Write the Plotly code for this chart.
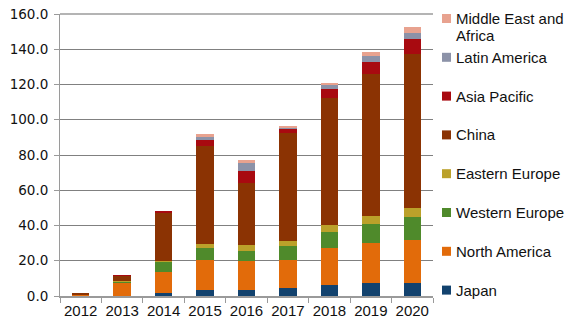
import plotly.graph_objects as go

# Annual installations by region (stacked)
years = ["2012", "2013", "2014", "2015", "2016", "2017", "2018", "2019", "2020"]

japan = [0.1, 0.2, 1.9, 3.6, 3.4, 4.7, 6.2, 7.2, 7.2]
north_america = [0.6, 7.2, 11.9, 16.6, 16.6, 16.0, 20.9, 22.7, 24.6]
western_europe = [0.1, 0.8, 5.7, 6.8, 5.7, 7.7, 9.4, 11.0, 12.9]
eastern_europe = [0.1, 0.5, 0.3, 2.5, 3.2, 2.9, 3.8, 4.5, 5.4]
china = [0.8, 2.8, 27.7, 55.5, 35.4, 61.0, 71.9, 80.6, 87.0]
asia_pacific = [0.0, 0.2, 0.2, 3.4, 6.6, 2.8, 5.1, 7.0, 8.7]
latin_america = [0.0, 0.0, 0.0, 2.0, 4.4, 0.5, 2.3, 3.3, 3.6]
middle_east_africa = [0.0, 0.0, 0.0, 1.3, 1.9, 0.5, 1.4, 1.9, 3.4]

# (trace name, legend label lines, values, colour)
series = [
    ("Japan", ["Japan"], japan, "#12426E"),
    ("North America", ["North America"], north_america, "#E26B0A"),
    ("Western Europe", ["Western Europe"], western_europe, "#4F8A2B"),
    ("Eastern Europe", ["Eastern Europe"], eastern_europe, "#BBA12A"),
    ("China", ["China"], china, "#8B3303"),
    ("Asia Pacific", ["Asia Pacific"], asia_pacific, "#A80A10"),
    ("Latin America", ["Latin America"], latin_america, "#8C92A8"),
    ("Middle East and Africa", ["Middle East and", "Africa"], middle_east_africa, "#E8A28F"),
]

W, H = 580, 330
ML, MR, MT, MB = 60, 147, 14, 34
plot_w = W - ML - MR
plot_h = H - MT - MB

fig = go.Figure()
for name, _, vals, color in series:
    fig.add_trace(go.Bar(
        x=years, y=vals, name=name,
        marker=dict(color=color, line=dict(width=0)),
        showlegend=False,
    ))

# Hand-placed legend: top entry first, evenly spaced down the right side
legend_font = dict(family="Liberation Sans, Arial, sans-serif", size=15, color="#111111")
spacing = 38.8
first_y = 18.5
line_step = 16.5
sq = 4.5
for i, (name, lines, vals, color) in enumerate(reversed(series)):
    py = first_y + i * spacing
    fig.add_shape(
        type="rect", xref="paper", yref="paper",
        x0=(442 - ML) / plot_w, x1=(451 - ML) / plot_w,
        y0=(H - MB - py - sq) / plot_h, y1=(H - MB - py + sq) / plot_h,
        fillcolor=color, line=dict(width=0),
    )
    for j, line in enumerate(lines):
        fig.add_annotation(
            xref="paper", yref="paper",
            x=(454 - ML) / plot_w, y=(H - MB - py - j * line_step) / plot_h,
            text=line, showarrow=False, xanchor="left", yanchor="middle",
            align="left", font=legend_font,
        )

fig.update_layout(
    width=W, height=H,
    margin=dict(l=ML, r=MR, t=MT, b=MB, autoexpand=False),
    barmode="stack",
    bargap=0.58,
    plot_bgcolor="white",
    paper_bgcolor="white",
    xaxis=dict(
        type="category",
        automargin=False,
        tickangle=0,
        showline=True, linecolor="#9a9a9a", linewidth=1.5,
        ticks="outside", tickson="boundaries", ticklen=5, tickcolor="#9a9a9a",
        tickfont=dict(family="Liberation Sans, Arial, sans-serif", size=15, color="#111111"),
        showgrid=False,
    ),
    yaxis=dict(
        automargin=False,
        range=[0, 160], dtick=20, tickformat=".1f",
        showline=True, linecolor="#9a9a9a", linewidth=1,
        ticks="outside", ticklen=5, tickcolor="#9a9a9a",
        ticklabelstandoff=3,
        showgrid=True, gridcolor="#808080", gridwidth=1,
        zeroline=False,
        tickfont=dict(family="DejaVu Sans", size=13.5, color="#111111"),
    ),
)

# Light top border at the 160 line
fig.add_shape(type="line", xref="paper", yref="paper", x0=0, x1=1, y0=1, y1=1,
              line=dict(color="#b4b4b4", width=2))

fig.write_html("out.html")
